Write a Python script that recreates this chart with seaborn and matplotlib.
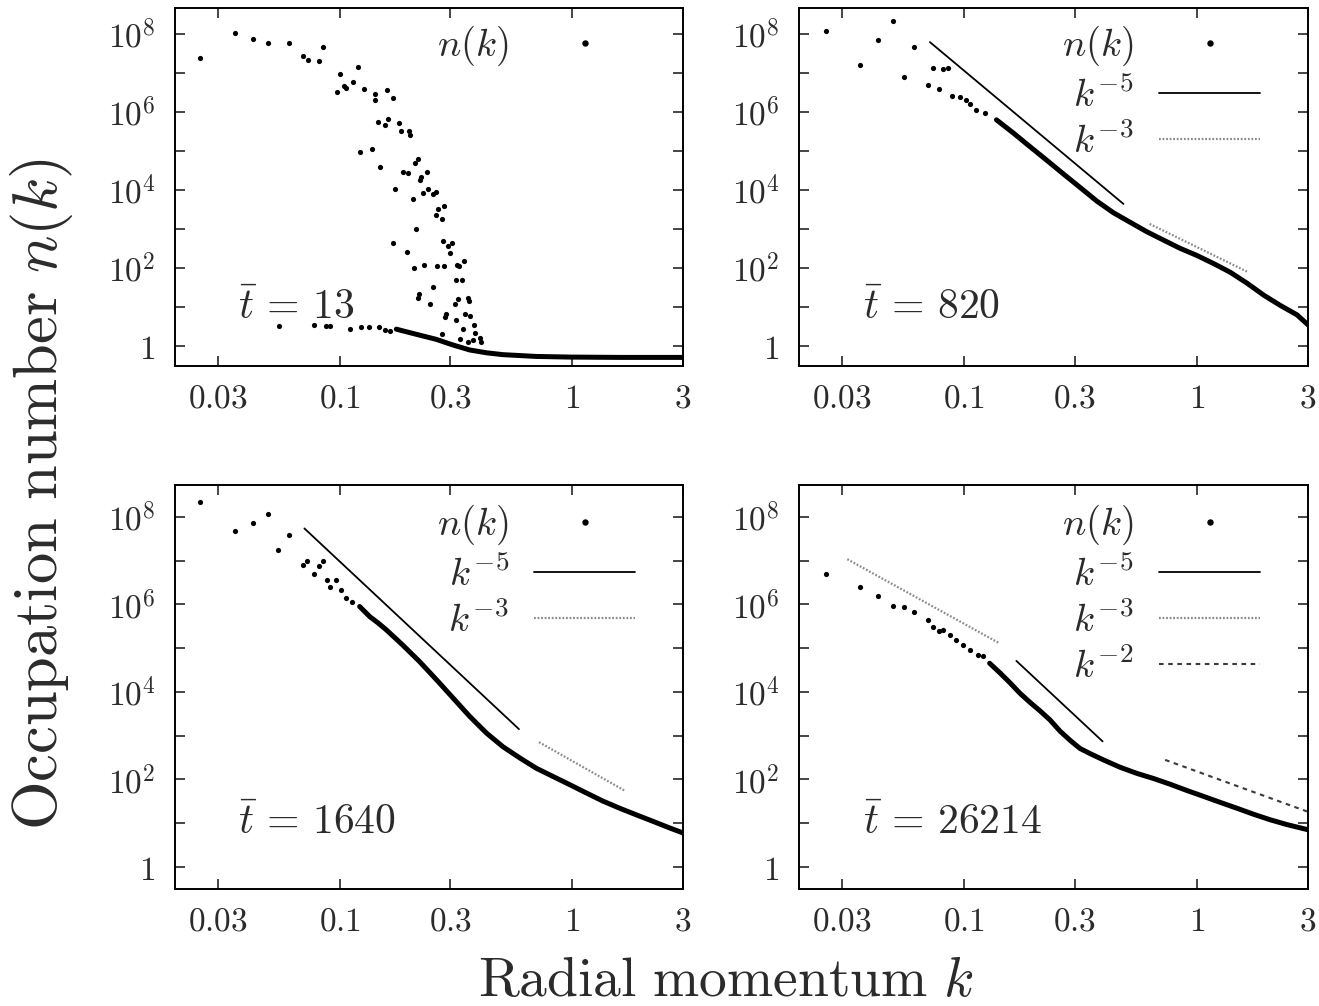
import numpy as np
import pandas as pd
import matplotlib
matplotlib.use("Agg")
import matplotlib.pyplot as plt
from matplotlib.lines import Line2D
import seaborn as sns

# ---------------- data ----------------
# Panel 1: t = 13
p1_sparse_k = [0.0251, 0.0355, 0.0424, 0.0490, 0.0605, 0.0695, 0.0731, 0.0813, 0.0845, 0.1007,
               0.0975, 0.1047, 0.1069, 0.1138, 0.1202, 0.1268, 0.1416, 0.1426, 0.1603, 0.1698,
               0.1466, 0.1563, 0.1622, 0.1807, 0.1832, 0.1986, 0.2000, 0.1227, 0.1377, 0.1496,
               0.1738, 0.1875, 0.1977, 0.2104, 0.2173, 0.2070, 0.2208, 0.2244, 0.2377, 0.2399,
               0.2286, 0.2523, 0.2594, 0.2649, 0.2812, 0.2606, 0.2767, 0.2138, 0.1706, 0.1950,
               0.2084, 0.2307, 0.2630, 0.2812, 0.2786, 0.2924, 0.3048, 0.2972, 0.3199, 0.3266,
               0.3420, 0.3177, 0.3373, 0.2523, 0.2193, 0.2168, 0.2460, 0.3126, 0.3243, 0.3565,
               0.3589, 0.2877, 0.2831, 0.3451, 0.3631, 0.3177, 0.3396, 0.3776, 0.3811, 0.3289,
               0.3565, 0.3750, 0.4009, 0.4074, 0.2767,
               0.0548, 0.0773, 0.0877, 0.0914, 0.1104, 0.1239, 0.1334, 0.1472, 0.1574, 0.1641]
p1_sparse_n = [2.5e7, 1.05e8, 7.6e7, 6.0e7, 5.9e7, 2.8e7, 2.1e7, 2.0e7, 4.6e7, 9.3e6,
               3.2e6, 4.6e6, 4.1e6, 5.9e6, 1.4e7, 3.8e6, 2.9e6, 2.0e6, 3.7e6, 2.3e6,
               5.5e5, 4.7e5, 6.8e5, 5.1e5, 3.3e5, 3.2e5, 2.6e5, 9.5e4, 1.15e5, 4.0e4,
               1.07e4, 2.95e4, 2.8e4, 4.9e4, 6.3e4, 5.8e3, 1.8e4, 2.2e4, 2.95e4, 1.07e4,
               8.3e3, 7.9e3, 8.7e3, 3.3e3, 3.9e3, 2.3e3, 1.8e3, 980, 430, 260,
               98, 120, 110, 112, 500, 370, 450, 240, 120, 115,
               150, 49, 48, 33, 21, 17, 12, 12, 16, 17,
               14, 6.5, 5.6, 6.5, 5.9, 4.7, 2.8, 3.5, 2.1, 1.5,
               1.3, 1.4, 1.6, 1.3, 2.0,
               3.3, 3.5, 3.2, 3.2, 2.8, 3.0, 3.0, 3.0, 2.6, 2.4]
p1_dense_k = [0.1754, 0.2208, 0.2606, 0.3076, 0.3631, 0.4279, 0.5042, 0.7015, 0.977, 1.60, 3.0]
p1_dense_n = [2.7, 1.9, 1.48, 1.06, 0.79, 0.67, 0.60, 0.54, 0.52, 0.51, 0.51]

# Panel 2: t = 820
p2_sparse_k = [0.0255, 0.0357, 0.0426, 0.0497, 0.0552, 0.0610, 0.0703, 0.0738, 0.0783, 0.0815,
               0.0857, 0.0891, 0.0962, 0.1026, 0.1062, 0.1132, 0.1230]
p2_sparse_n = [1.2e8, 1.6e7, 6.9e7, 2.2e8, 8.1e6, 4.6e7, 4.8e6, 1.35e7, 3.9e6, 1.26e7,
               1.38e7, 2.6e6, 2.5e6, 2.0e6, 1.6e6, 1.15e6, 9.3e5]
p2_dense_k = [0.138, 0.163, 0.192, 0.226, 0.267, 0.315, 0.372, 0.439, 0.516, 0.610,
              0.719, 0.847, 1.00, 1.18, 1.39, 1.64, 1.94, 2.28, 2.69, 3.0]
p2_dense_n = [6.3e5, 2.9e5, 1.3e5, 5.9e4, 2.6e4, 1.17e4, 5.2e3, 2.6e3, 1.5e3, 850,
              520, 320, 210, 130, 78, 41, 20, 11, 6.3, 3.5]

# Panel 3: t = 1640
p3_sparse_k = [0.0251, 0.0355, 0.0424, 0.0490, 0.0546, 0.0605, 0.0695, 0.0726, 0.0776, 0.0813,
               0.0847, 0.0885, 0.0914, 0.0968, 0.1016, 0.1069, 0.1135]
p3_sparse_n = [2.2e8, 4.8e7, 7.1e7, 1.15e8, 1.7e7, 3.8e7, 7.9e6, 1.0e7, 4.8e6, 7.4e6,
               1.0e7, 3.5e6, 2.5e6, 3.6e6, 2.1e6, 1.4e6, 1.1e6]
p3_dense_k = [0.122, 0.135, 0.146, 0.159, 0.187, 0.221, 0.261, 0.308, 0.363, 0.428,
              0.504, 0.596, 0.702, 0.828, 0.977, 1.153, 1.358, 1.603, 1.892, 2.234, 2.630, 3.0]
p3_dense_n = [8.9e5, 5.2e5, 3.8e5, 2.6e5, 1.17e5, 4.9e4, 1.9e4, 7.2e3, 2.75e3, 1.15e3,
              560, 310, 180, 117, 76, 49, 32, 22, 15.5, 11, 7.8, 6.0]

# Panel 4: t = 26214
p4_sparse_k = [0.0255, 0.0357, 0.0426, 0.0497, 0.0552, 0.0610, 0.0703, 0.0738, 0.0783, 0.0815,
               0.0871, 0.0925, 0.0993, 0.1062, 0.1153, 0.1211]
p4_sparse_n = [4.9e6, 2.5e6, 1.55e6, 9.1e5, 8.5e5, 6.6e5, 4.4e5, 3.1e5, 2.5e5, 2.6e5,
               2.0e5, 1.55e5, 1.17e5, 9.1e4, 6.9e4, 6.5e4]
p4_dense_k = [0.129, 0.143, 0.158, 0.174, 0.192, 0.212, 0.234, 0.259, 0.286, 0.315,
              0.348, 0.397, 0.468, 0.552, 0.652, 0.767, 0.906, 1.069, 1.259, 1.486,
              1.754, 2.065, 2.438, 3.0]
p4_dense_n = [4.5e4, 2.7e4, 1.6e4, 9.3e3, 5.8e3, 3.7e3, 2.3e3, 1.26e3, 780, 510,
              390, 280, 190, 138, 105, 78, 56, 41, 30, 22,
              16, 12, 9.3, 7.1]

# power-law guide segments: (k_start, k_end), (n_start, n_end)
p2_k5_k, p2_k5_n = [0.0715, 0.484], [6.2e7, 4.4e3]
p2_k3_k, p2_k3_n = [0.627, 1.64], [1350, 81]
p3_k5_k, p3_k5_n = [0.0706, 0.591], [5.4e7, 1410]
p3_k3_k, p3_k3_n = [0.721, 1.70], [710, 54]
p4_k3_k, p4_k3_n = [0.0316, 0.142], [1.07e7, 1.29e5]
p4_k5_k, p4_k5_n = [0.168, 0.394], [5.1e4, 740]
p4_k2_k, p4_k2_n = [0.731, 2.97], [280, 18.6]

times = ["13", "820", "1640", "26214"]
x_ticks = [0.03, 0.1, 0.3, 1, 3]
x_tick_labels = ["0.03", "0.1", "0.3", "1", "3"]
y_ticks = [1, 1e1, 1e2, 1e3, 1e4, 1e5, 1e6, 1e7, 1e8]
y_tick_labels = ["1", "", "10^2", "", "10^4", "", "10^6", "", "10^8"]

# ---------------- style ----------------
sns.set_theme(style="ticks")
TXT = "#2b2b2b"
plt.rcParams.update({
    "mathtext.fontset": "cm",
    "font.family": ["DejaVu Serif"],
    "axes.linewidth": 1.4,
    "axes.edgecolor": "black",
    "xtick.direction": "in", "ytick.direction": "in",
    "xtick.top": True, "ytick.right": True,
    "xtick.major.size": 7.5, "ytick.major.size": 7.5,
    "xtick.major.width": 1.2, "ytick.major.width": 1.2,
    "xtick.minor.visible": False, "ytick.minor.visible": False,
    "text.color": TXT, "xtick.labelcolor": TXT, "ytick.labelcolor": TXT,
})

W, H = 1319, 1006
fig = plt.figure(figsize=(W / 100, H / 100), dpi=100)

def rect(x0, y0, x1, y1):
    return [x0 / W, 1 - y1 / H, (x1 - x0) / W, (y1 - y0) / H]

axes = [fig.add_axes(rect(175, 8, 683, 366)), fig.add_axes(rect(799, 8, 1308, 366)),
        fig.add_axes(rect(175, 485, 683, 889)), fig.add_axes(rect(799, 485, 1308, 889))]
ylims = [(0.307, 4.65e8), (0.307, 4.65e8), (0.315, 5.3e8), (0.315, 5.3e8)]

sparse = [(p1_sparse_k, p1_sparse_n), (p2_sparse_k, p2_sparse_n),
          (p3_sparse_k, p3_sparse_n), (p4_sparse_k, p4_sparse_n)]
dense = [(p1_dense_k, p1_dense_n), (p2_dense_k, p2_dense_n),
         (p3_dense_k, p3_dense_n), (p4_dense_k, p4_dense_n)]

STY = {
    "k5": dict(color="black", linestyle="-", linewidth=1.3),
    "k3": dict(color="#8a8a8a", linestyle=(0, (0.8, 0.8)), linewidth=1.6),
    "k2": dict(color="#3a3a3a", linestyle=(0, (2.2, 2.2)), linewidth=1.5),
}
guides = [
    [],
    [("k5", p2_k5_k, p2_k5_n), ("k3", p2_k3_k, p2_k3_n)],
    [("k5", p3_k5_k, p3_k5_n), ("k3", p3_k3_k, p3_k3_n)],
    [("k3", p4_k3_k, p4_k3_n), ("k5", p4_k5_k, p4_k5_n), ("k2", p4_k2_k, p4_k2_n)],
]
legend_keys = [[], ["k5", "k3"], ["k5", "k3"], ["k5", "k3", "k2"]]
legend_text = {"k5": r"$k^{-5}$", "k3": r"$k^{-3}$", "k2": r"$k^{-2}$"}

for i, ax in enumerate(axes):
    sk, sn = sparse[i]
    dk, dn = dense[i]
    sns.lineplot(x=dk, y=dn, ax=ax, color="black", linewidth=3.6, sort=False,
                 estimator=None, solid_capstyle="round")
    sns.scatterplot(x=sk, y=sn, ax=ax, color="black", s=14, linewidth=0, marker="o")
    for key, gk, gn in guides[i]:
        sns.lineplot(x=gk, y=gn, ax=ax, sort=False, estimator=None, **STY[key])
    ax.set_xscale("log")
    ax.set_yscale("log")
    ax.set_xlim(0.0196, 3.0)
    ax.set_ylim(*ylims[i])
    ax.set_xticks(x_ticks)
    ax.set_xticklabels([r"$%s$" % t for t in x_tick_labels])
    ax.set_yticks(y_ticks)
    ax.set_yticklabels([(r"$%s$" % t) if t else "" for t in y_tick_labels])
    ax.minorticks_off()
    ax.tick_params(axis="x", labelsize=24, pad=12)
    ax.tick_params(axis="y", labelsize=24, pad=14)
    ax.set_xlabel("")
    ax.set_ylabel("")
    for sp in ax.spines.values():
        sp.set_visible(True)
        sp.set_linewidth(1.4)

    handles = [Line2D([], [], color="black", marker="o", markersize=3.6, linestyle="none")]
    labels = [r"$n(k)$"]
    for key in legend_keys[i]:
        handles.append(Line2D([], [], **STY[key]))
        labels.append(legend_text[key])
    ax.legend(handles, labels, loc="upper right", bbox_to_anchor=(0.906, 0.955),
              frameon=False, markerfirst=False, fontsize=28, handlelength=2.6,
              handletextpad=0.65, labelspacing=0.2, borderpad=0, borderaxespad=0)
    ax.text(0.125, 0.165, r"$\bar{t}\, = \,%s$" % times[i], transform=ax.transAxes,
            fontsize=30, ha="left", va="center", color=TXT)

fig.text(726 / W, 1 - 996 / H, r"$\mathrm{Radial\ momentum}\ k$", fontsize=40,
         ha="center", va="baseline", color=TXT)
fig.text(42 / W, 1 - 494 / H, r"$\mathrm{Occupation\ number}\ n(k)$", fontsize=45,
         ha="center", va="center", rotation=90, color=TXT)

fig.savefig("out.png", dpi=100)
